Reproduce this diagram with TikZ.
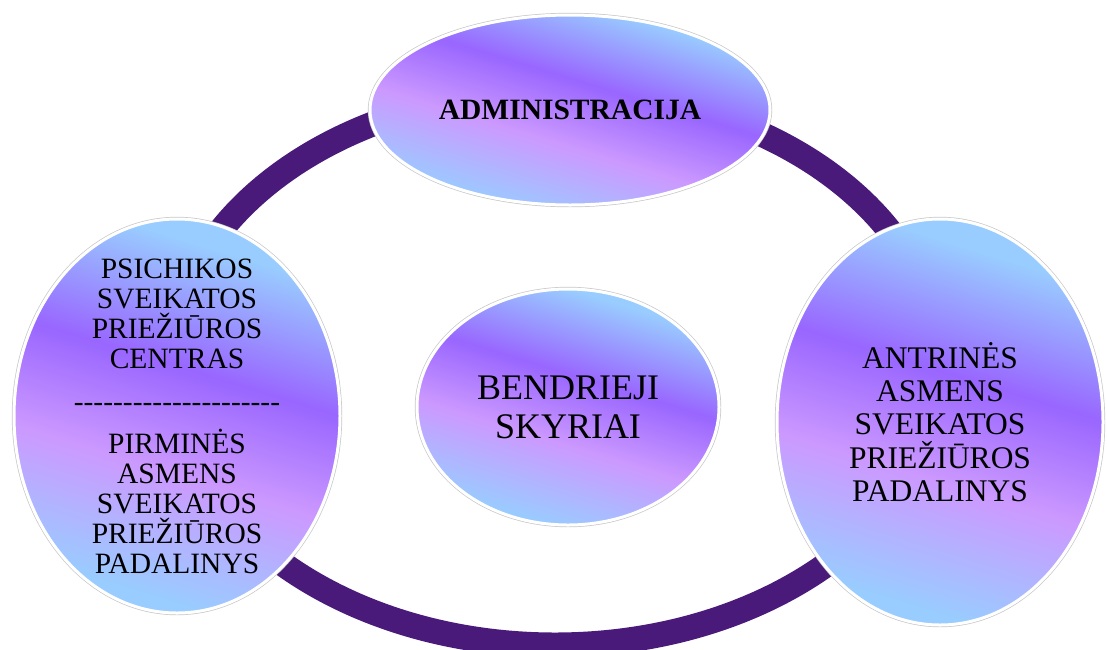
\documentclass[tikz,border=0pt]{standalone}
\usepackage{fontspec}
\setmainfont{Liberation Serif}
\usetikzlibrary{shapes.geometric}
\definecolor{lb}{HTML}{99CCFF}
\definecolor{lav}{HTML}{CC99FF}
\definecolor{pur}{HTML}{9966FF}
\definecolor{ringc}{HTML}{4A1A7A}
\pgfdeclareverticalshading{orbshade}{100bp}{color(0bp)=(lb); color(31bp)=(lb); color(44bp)=(lav); color(55bp)=(pur); color(68bp)=(lb); color(100bp)=(lb)}
\begin{document}
\begin{tikzpicture}[x=1pt,y=-1pt,
  orb/.style 2 args={ellipse, inner sep=0pt, minimum width=#1pt, minimum height=#2pt,
    draw=white, line width=3pt,
    preaction={draw=black!22, line width=4.4pt},
    path picture={
      \begin{scope}[transform canvas={rotate around={-17:(path picture bounding box.center)}}]
        \shade[shading=orbshade, draw=none]
          ([shift={({-1.2*#1},{-(0.2924*#1+0.9563*#2)/2})}]path picture bounding box.center)
          rectangle
          ([shift={({1.2*#1},{(0.2924*#1+0.9563*#2)/2})}]path picture bounding box.center);
      \end{scope}}},
  ringstyle/.style={ellipse, inner sep=0pt, draw=ringc, line width=25pt},
  lbl/.style={align=center, text=black, inner sep=0pt}]
\useasboundingbox (0,0) rectangle (1107,649);
\node[ringstyle, minimum width=770pt, minimum height=554pt] (ring) at (555,368) {};
\node[orb={400}{190}] (admin) at (570,110) {};
\node[orb={326}{394}] (left) at (177,416) {};
\node[orb={326}{406}] (right) at (940,422) {};
\node[orb={302}{236}] (center) at (568,407) {};
\node[lbl, font={\fontsize{29.5}{30}\selectfont\bfseries}] (adminT) at (admin.center) {ADMINISTRACIJA};
\node[lbl, font={\fontsize{36}{39}\selectfont}] (centerT) at (center.center) {BENDRIEJI\\SKYRIAI};
\node[lbl, font={\fontsize{31.5}{33.3}\selectfont}] (rightT) at (right.center) {ANTRINĖS\\ASMENS\\SVEIKATOS\\PRIEŽIŪROS\\PADALINYS};
\node[lbl, font={\fontsize{29.5}{30}\selectfont}] (leftT) at (left.center) {PSICHIKOS\\SVEIKATOS\\PRIEŽIŪROS\\CENTRAS\\[13pt]-{}-{}-{}-{}-{}-{}-{}-{}-{}-{}-{}-{}-{}-{}-{}-{}-{}-{}-{}-{}-\\[12pt]PIRMINĖS\\ASMENS\\SVEIKATOS\\PRIEŽIŪROS\\PADALINYS};
\end{tikzpicture}
\end{document}
